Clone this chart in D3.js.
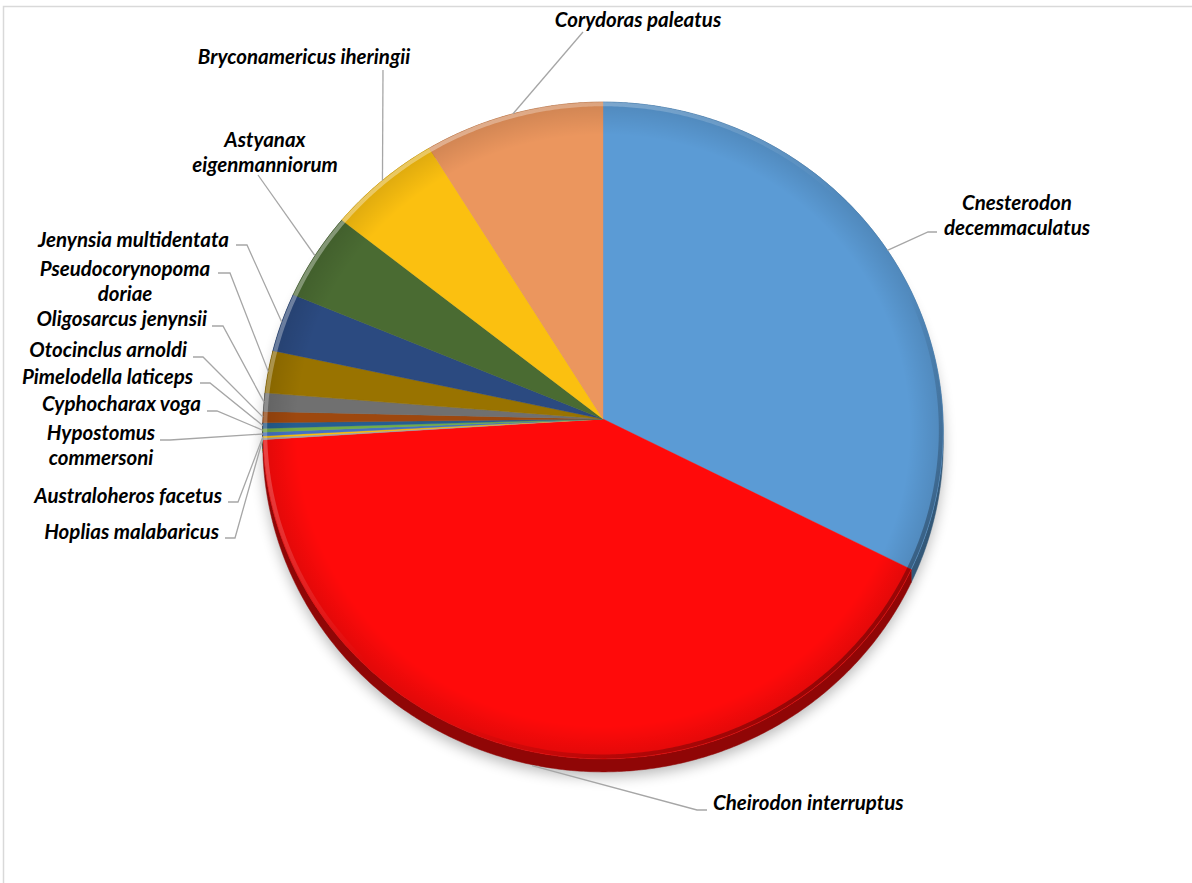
<!DOCTYPE html>
<html>
<head>
<meta charset="utf-8">
<script src="https://cdn.jsdelivr.net/npm/d3@7/dist/d3.min.js"></script>
<style>
  html, body { margin: 0; padding: 0; background: #fff; }
  svg { display: block; }
  .lbl { font-family: Lato, "Open Sans", sans-serif; font-weight: bold; font-style: italic; font-size: 20.5px; fill: #000; }
</style>
</head>
<body>
<div id="chart"></div>
<script>
// species in drawing order (clockwise from 12 o'clock)
const species = [
  "Cnesterodon decemmaculatus", "Cheirodon interruptus", "Hoplias malabaricus",
  "Australoheros facetus", "Hypostomus commersoni", "Cyphocharax voga",
  "Pimelodella laticeps", "Otocinclus arnoldi", "Oligosarcus jenynsii",
  "Pseudocorynopoma doriae", "Jenynsia multidentata", "Astyanax eigenmanniorum",
  "Bryconamericus iheringii", "Corydoras paleatus"
];
// individuals
const counts = [357, 457, 1, 1, 2, 2, 3, 6, 10, 23, 32, 48, 61, 97];
const colors = [
  "#5b9bd5", "#ff0a0a", "#a5a5a5", "#ffc000", "#4472c4", "#70ad47",
  "#255e91", "#9e480e", "#707070", "#997300", "#2b4a80", "#4a6b32",
  "#fbc010", "#eb965e"
];
// label text lines (as in the chart)
const labelLines = [
  ["Cnesterodon", "decemmaculatus"], ["Cheirodon interruptus"], ["Hoplias malabaricus"],
  ["Australoheros facetus"], ["Hypostomus", "commersoni"], ["Cyphocharax voga"],
  ["Pimelodella laticeps"], ["Otocinclus arnoldi"], ["Oligosarcus jenynsii"],
  ["Pseudocorynopoma", "doriae"], ["Jenynsia multidentata"], ["Astyanax", "eigenmanniorum"],
  ["Bryconamericus iheringii"], ["Corydoras paleatus"]
];

// label layout: text position, anchor, elbow of leader, stub end
const labelLayout = [
  { x: 1017, y: 203, anchor: "middle", ex: 928, ey: 232, sx: 937 },
  { x: 713, y: 803, anchor: "start", ex: 697, ey: 810, sx: 707 },
  { x: 219, y: 532, anchor: "end", ex: 235, ey: 538, sx: 225 },
  { x: 222, y: 496, anchor: "end", ex: 238, ey: 502, sx: 228 },
  { x: 101, y: 433, anchor: "middle", ex: 170, ey: 440, sx: 160 },
  { x: 201, y: 404, anchor: "end", ex: 217, ey: 411, sx: 207 },
  { x: 193, y: 377, anchor: "end", ex: 210, ey: 383, sx: 200 },
  { x: 187, y: 350, anchor: "end", ex: 203, ey: 357, sx: 193 },
  { x: 207, y: 319, anchor: "end", ex: 223, ey: 326, sx: 212 },
  { x: 125, y: 269, anchor: "middle", ex: 230, ey: 273, sx: 218 },
  { x: 229, y: 240, anchor: "end", ex: 247, ey: 245, sx: 236 },
  { x: 265, y: 140, anchor: "middle", ex: 258, ey: 175, sx: null },
  { x: 304, y: 57, anchor: "middle", ex: 383, ey: 70, sx: null },
  { x: 638, y: 20, anchor: "middle", ex: 583, ey: 32, sx: null }
];
const lineGap = 25;

const W = 1192, H = 883;
const cx = 603, cy = 419, rx = 340, ky = 328, persp = 0.035, depth = 13;

// tilted disc: angle a (clockwise from top), radius fraction rho
function proj(a, rho = 1) {
  const u = rho * Math.sin(a), w = -rho * Math.cos(a);
  const s = 1 / (1 - persp * w);
  return [cx + rx * u * s, cy + ky * w * s];
}
function arcPoints(a0, a1, rho = 1) {
  const n = Math.max(2, Math.ceil((a1 - a0) / (Math.PI / 360)));
  return d3.range(n + 1).map(i => proj(a0 + (a1 - a0) * i / n, rho));
}

const data = species.map((s, i) => ({ name: s, count: counts[i], color: colors[i], lines: labelLines[i], lay: labelLayout[i] }));
const arcs = d3.pie().sort(null).value(d => d.count)(data);
const line = d3.line();

const svg = d3.select("#chart").append("svg").attr("width", W).attr("height", H);
const defs = svg.append("defs");

const blur = defs.append("filter").attr("id", "shadow").attr("x", "-10%").attr("y", "-10%").attr("width", "120%").attr("height", "130%");
blur.append("feGaussianBlur").attr("stdDeviation", 7);

const bevel = defs.append("linearGradient").attr("id", "bevel")
  .attr("x1", "0").attr("y1", "0").attr("x2", "1").attr("y2", "1");
bevel.append("stop").attr("offset", "0").attr("stop-color", "#fff").attr("stop-opacity", 0.5);
bevel.append("stop").attr("offset", "0.5").attr("stop-color", "#fff").attr("stop-opacity", 0.0);
bevel.append("stop").attr("offset", "0.62").attr("stop-color", "#000").attr("stop-opacity", 0.0);
bevel.append("stop").attr("offset", "1").attr("stop-color", "#000").attr("stop-opacity", 0.55);

const rim = defs.append("radialGradient").attr("id", "rim");
rim.append("stop").attr("offset", "0.9").attr("stop-color", "#000").attr("stop-opacity", 0);
rim.append("stop").attr("offset", "1").attr("stop-color", "#000").attr("stop-opacity", 0.12);

// chart area border
svg.append("rect").attr("x", 3.5).attr("y", 6.5).attr("width", W + 10).attr("height", H + 10)
  .attr("fill", "none").attr("stroke", "#d9d9d9").attr("stroke-width", 1.5);

const full = arcPoints(0, 2 * Math.PI);

// soft shadow under the disc
svg.append("path")
  .attr("d", line(full.map(p => [p[0], p[1] + depth + 5])) + "Z")
  .attr("fill", "#000").attr("opacity", 0.28).attr("filter", "url(#shadow)");

// side walls
svg.append("g").selectAll("path").data(arcs).join("path")
  .attr("d", d => {
    const pts = arcPoints(d.startAngle, d.endAngle);
    const low = pts.map(p => [p[0], p[1] + depth]).reverse();
    return line(pts.concat(low)) + "Z";
  })
  .attr("fill", d => d3.color(d.data.color).darker(1.6))
  .attr("stroke", d => d3.color(d.data.color).darker(1.6)).attr("stroke-width", 0.5);

// top faces
svg.append("g").selectAll("path").data(arcs).join("path")
  .attr("d", d => line([[cx, cy]].concat(arcPoints(d.startAngle, d.endAngle))) + "Z")
  .attr("fill", d => d.data.color)
  .attr("stroke", d => d.data.color).attr("stroke-width", 0.4);

// bevel shading on the rim
svg.append("path").attr("d", line(full) + "Z").attr("fill", "url(#rim)");
svg.append("path").attr("d", line(arcPoints(0, 2 * Math.PI, 0.993)) + "Z")
  .attr("fill", "none").attr("stroke", "url(#bevel)").attr("stroke-width", 4);

// leader lines
svg.append("g").selectAll("path").data(arcs).join("path")
  .attr("d", d => {
    const mid = (d.startAngle + d.endAngle) / 2;
    const p = proj(mid, 1);
    if (-Math.cos(mid) > 0.3) p[1] += depth + 1;
    const L = d.data.lay;
    const pts = [p, [L.ex, L.ey]];
    if (L.sx !== null) pts.push([L.sx, L.ey]);
    return line(pts);
  })
  .attr("fill", "none").attr("stroke", "#a6a6a6").attr("stroke-width", 1.3);

// labels
const lbl = svg.append("g").selectAll("text").data(data).join("text")
  .attr("class", "lbl")
  .attr("text-anchor", d => d.lay.anchor)
  .attr("x", d => d.lay.x).attr("y", d => d.lay.y);
lbl.selectAll("tspan").data(d => d.lines.map((t, j) => ({ t, j, x: d.lay.x, y: d.lay.y }))).join("tspan")
  .attr("x", d => d.x).attr("y", d => d.y + d.j * lineGap).attr("dy", "0.35em")
  .text(d => d.t);
</script>
</body>
</html>
